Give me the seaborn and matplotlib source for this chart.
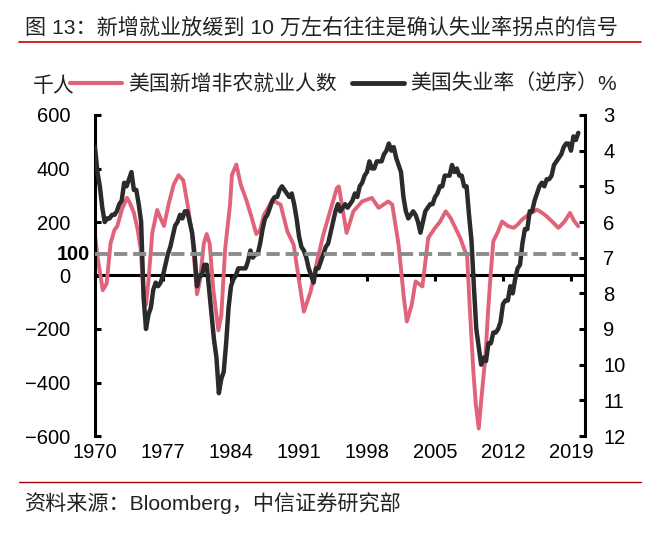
import numpy as np
import pandas as pd
import matplotlib
matplotlib.use("Agg")
import matplotlib.pyplot as plt
import matplotlib.transforms as mtransforms
from matplotlib.lines import Line2D
import seaborn as sns

# 美国新增非农就业人数（千人）
payroll_year = [1970.0, 1970.3, 1970.8, 1971.2, 1971.6, 1972.0, 1972.3, 1972.8, 1973.3, 1973.6,
                1974.0, 1974.4, 1974.7, 1975.0, 1975.25, 1975.5, 1975.9, 1976.4, 1976.8, 1977.1,
                1977.6, 1978.1, 1978.6, 1979.1, 1979.6, 1980.0, 1980.5, 1980.8, 1981.2, 1981.5,
                1981.8, 1982.2, 1982.7, 1983.0, 1983.4, 1983.9, 1984.1, 1984.55, 1985.0, 1985.6,
                1986.1, 1986.6, 1987.0, 1987.4, 1988.2, 1988.6, 1989.1, 1989.8, 1990.45, 1990.96,
                1991.5, 1992.2, 1992.85, 1993.5, 1994.2, 1994.9, 1995.1, 1995.9, 1996.6, 1997.5,
                1998.5, 1999.2, 2000.2, 2000.6, 2001.25, 2001.8, 2002.1, 2002.6, 2003.0, 2003.7,
                2004.3, 2005.0, 2005.5, 2006.1, 2006.6, 2007.1, 2007.6, 2008.1, 2008.3, 2008.6,
                2008.95, 2009.2, 2009.5, 2009.8, 2010.2, 2010.45, 2010.7, 2011.0, 2011.5, 2011.9,
                2012.5, 2013.1, 2013.5, 2013.96, 2014.7, 2015.5, 2016.0, 2016.5, 2017.1, 2017.7,
                2018.3, 2018.9, 2019.3, 2019.75]
payroll_k = [150, 60, -55, -30, 120, 170, 185, 250, 290, 270,
             235, 170, 100, -60, -110, -20, 160, 245, 210, 185,
             270, 340, 375, 355, 250, 150, -70, -20, 120, 155,
             120, -60, -205, -150, 100, 265, 377, 415, 340, 280,
             220, 155, 170, 227, 277, 275, 265, 165, 115, -9,
             -135, -60, 52, 152, 240, 327, 333, 159, 240, 277,
             290, 253, 277, 265, 115, -85, -172, -110, -22, -41,
             140, 178, 200, 240, 215, 178, 140, 90, 77, -135,
             -360, -480, -572, -450, -297, -140, -10, 128, 165, 202,
             185, 178, 190, 209, 230, 246, 235, 221, 200, 178,
             200, 234, 205, 184]

# 美国失业率（%），季度读数
unemp_year = np.arange(1970, 2019.8, 0.25)
unemp_rate = [3.9, 4.6, 5.0, 5.6,   6.0, 5.9, 5.9, 5.8,   5.8, 5.7, 5.5, 5.4,
              4.9, 5.0, 4.8, 4.6,   5.1, 5.1, 5.5, 6.0,   8.1, 9.0, 8.6, 8.4,
              7.9, 7.7, 7.8, 7.7,   7.5, 7.2, 6.9, 6.7,   6.4, 6.1, 6.0, 5.8,
              5.9, 5.7, 5.7, 6.0,   6.3, 6.9, 7.8, 7.5,   7.5, 7.2, 7.2, 7.9,
              8.6, 9.3, 9.8, 10.8,  10.4, 10.2, 9.4, 8.4, 7.8, 7.6, 7.5, 7.3,
              7.3, 7.3, 7.3, 7.1,   6.8, 7.0, 6.9, 6.9,   6.6, 6.2, 5.9, 5.8,
              5.6, 5.4, 5.3, 5.3,   5.1, 5.0, 5.1, 5.2,   5.3, 5.2, 5.5, 5.9,
              6.4, 6.7, 6.8, 7.0,   7.3, 7.5, 7.7, 7.3,   7.3, 7.1, 6.9, 6.7,
              6.6, 6.3, 6.0, 5.7,   5.5, 5.7, 5.6, 5.5,   5.6, 5.5, 5.4, 5.2,
              5.3, 5.0, 4.9, 4.7,   4.6, 4.3, 4.5, 4.5,   4.3, 4.3, 4.3, 4.1,
              4.0, 3.8, 4.0, 3.9,   4.2, 4.4, 4.6, 5.3,   5.7, 5.9, 5.8, 5.7,
              5.8, 6.0, 6.3, 6.0,   5.7, 5.6, 5.5, 5.5,   5.3, 5.2, 5.0, 5.0,
              4.7, 4.7, 4.7, 4.4,   4.6, 4.5, 4.7, 4.7,   5.0, 5.0, 5.8, 6.5,
              7.8, 9.0, 9.5, 10.0,  9.8, 9.9, 9.4, 9.4,   9.1, 9.1, 9.0, 8.8,
              8.3, 8.2, 8.2, 7.8,   8.0, 7.6, 7.3, 7.2,   6.6, 6.2, 6.2, 5.7,
              5.7, 5.4, 5.2, 5.0,   4.9, 5.0, 4.8, 4.8,   4.7, 4.4, 4.3, 4.2,
              4.1, 3.9, 3.8, 3.8,   4.0, 3.6, 3.7, 3.5]

xtick_years = [1970, 1977, 1984, 1991, 1998, 2005, 2012, 2019]
left_ticks = [-600, -400, -200, 0, 200, 400, 600]
right_ticks = list(range(3, 13))
signal_level = 80   # 图中标注 100 的虚线位置

pink = "#E0637A"
dark = "#2B2B2B"

sns.set_theme(style="white")
plt.rcParams["font.family"] = ["Liberation Sans", "Noto Sans CJK SC"]

fig = plt.figure(figsize=(6.6, 5.33), dpi=100)
ax = fig.add_axes([95 / 660, 1 - 436 / 533, 490 / 660, 321 / 533])

sns.lineplot(x=payroll_year, y=payroll_k, ax=ax, color=pink, lw=2.8)
ax.set_xlim(1970, 2020.44)
ax.set_ylim(-600, 600)
ax.set_yticks(left_ticks)
ax.set_xticks(xtick_years)
ax.set_xticklabels([str(y) for y in xtick_years])
ax.tick_params(axis="y", direction="in", length=4.5, width=2.2, pad=18,
               labelsize=14.5, colors="black", left=True, right=False)
ax.tick_params(axis="x", length=0, pad=5, labelsize=14.5, colors="black")
for s in ["top", "right", "bottom"]:
    ax.spines[s].set_visible(False)
ax.spines["left"].set_linewidth(2.2)
ax.spines["left"].set_color("black")
ax.set_xlabel("")
ax.set_ylabel("")

# 零轴
sec = ax.secondary_xaxis(0.5)
sec.set_xticks(xtick_years)
sec.tick_params(axis="x", direction="in", length=4.5, width=2.2,
                labeltop=False, labelbottom=False, colors="black")
for sp in sec.spines.values():
    sp.set_linewidth(2.2)
    sp.set_color("black")

ax2 = ax.twinx()
sns.lineplot(x=unemp_year, y=unemp_rate, ax=ax2, color=dark, lw=3.2)
ax2.set_ylim(12, 3)
ax2.set_yticks(right_ticks)
ax2.tick_params(axis="y", direction="in", length=4.5, width=2.2, pad=13,
                labelsize=14.5, colors="black", right=True, left=False)
for s in ["top", "left", "bottom"]:
    ax2.spines[s].set_visible(False)
ax2.spines["right"].set_linewidth(2.2)
ax2.spines["right"].set_color("black")
ax2.set_xlim(1970, 2020.44)
ax2.set_ylabel("")
ax2.grid(False)
ax.grid(False)

# 100 虚线
ax2.plot([payroll_year[0], payroll_year[-1]], [signal_level, signal_level],
         transform=ax.transData, color="#8C8C8C", lw=2.8, ls=(0, (3.4, 1.5)), zorder=5)
lab_tr = mtransforms.blended_transform_factory(ax.transAxes, ax.transData)
ax.text(-0.011, signal_level, "100", transform=lab_tr, ha="right", va="center",
        fontsize=14.3, fontweight="bold", color="black")

# 图例与单位
handles = [Line2D([], [], color=pink, lw=3), Line2D([], [], color=dark, lw=3.5)]
fig.legend(handles, ["美国新增非农就业人数", "美国失业率（逆序）"],
           loc="center left", bbox_to_anchor=(70 / 660, 1 - 84 / 533),
           ncol=2, frameon=False, fontsize=15, handlelength=2.5, handletextpad=0.3,
           columnspacing=0.7, borderpad=0, borderaxespad=0, labelcolor="#222222")
fig.text(33 / 660, 1 - 86 / 533, "千人", fontsize=15, va="center", ha="left", color="#222222")
fig.text(597 / 660, 1 - 84 / 533, "%", fontsize=15, va="center", ha="left", color="#222222")

# 标题、来源
fig.text(25 / 660, 1 - 27 / 533, "图 13：新增就业放缓到 10 万左右往往是确认失业率拐点的信号",
         fontsize=15.2, va="center", ha="left", color="#222222")
fig.add_artist(Line2D([19 / 660, 641 / 660], [1 - 42.3 / 533] * 2, color="#CC0000", lw=1.2))
fig.add_artist(Line2D([19 / 660, 641 / 660], [1 - 481.7 / 533] * 2, color="#A50000", lw=1.0))
fig.text(25 / 660, 1 - 503 / 533, "资料来源：Bloomberg，中信证券研究部",
         fontsize=15.2, va="center", ha="left", color="#222222")

fig.savefig("out.png", dpi=100)
